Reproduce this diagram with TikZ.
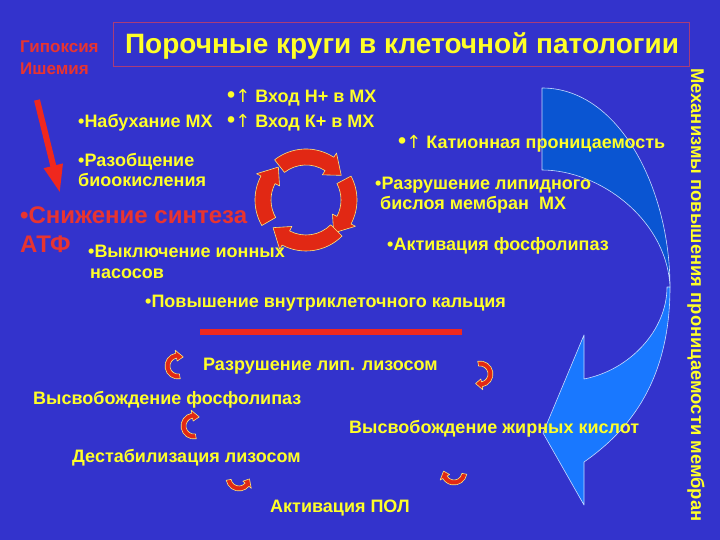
\documentclass[tikz,border=0pt]{standalone}
\usepackage{fontspec}
\setmainfont{Liberation Sans}
\newfontfamily\arrowfont{DejaVu Sans}
\usetikzlibrary{arrows.meta}
\definecolor{bg}{RGB}{51,51,204}
\definecolor{ytext}{RGB}{255,255,40}
\definecolor{rtext}{RGB}{232,52,48}
\definecolor{tborder}{RGB}{170,60,120}
\definecolor{bluedark}{RGB}{10,85,210}
\definecolor{bluelight}{RGB}{25,120,255}
\definecolor{blueedge}{RGB}{200,220,255}
\definecolor{arrred}{RGB}{225,40,20}
\definecolor{arredge}{RGB}{255,230,120}
\definecolor{barred}{RGB}{240,40,30}
\newcommand\uparr{{\arrowfont\mdseries ↑}}
\newcommand\bigbul{{\fontsize{23}{23}\selectfont •}}
\newcommand\carrow[8]{%
 \pgfmathsetmacro\cro{#3+#4/2}%
 \pgfmathsetmacro\cri{#3-#4/2}%
 \pgfmathsetmacro\chro{#3+#5}%
 \pgfmathsetmacro\chri{#3-#5}%
 \filldraw[cycarrow,shift={(#1,#2)}] (#6:\cro pt) arc[start angle=#6,end angle=#7,radius=\cro pt]
   -- (#7:\chro pt) -- (#8:#3 pt) -- (#7:\chri pt) -- (#7:\cri pt)
   arc[start angle=#7,end angle=#6,radius=\cri pt] -- cycle;}
\tikzset{
  yt/.style={text=ytext,font=\bfseries\fontsize{18}{21}\selectfont,inner sep=0pt,anchor=base west},
  rt/.style={text=rtext,font=\bfseries\fontsize{17}{20}\selectfont,inner sep=0pt,anchor=base west},
  bigrt/.style={text=rtext,font=\bfseries\fontsize{24}{28}\selectfont,inner sep=0pt,anchor=base west},
  cycarrow/.style={fill=arrred,draw=arredge,line width=0.6pt,line join=round},
  bluepart/.style={draw=blueedge,line width=0.6pt,line join=round},
}
\begin{document}
\begin{tikzpicture}[x=1pt,y=-1pt]
\useasboundingbox (0,0) rectangle (720,540);
\fill[bg] (0,0) rectangle (720,540);

% big blue curved arrow
\fill[bluedark,bluepart] (542,88) .. controls (620,88) and (670,190) .. (670,287)
  .. controls (667,220) and (600,170) .. (542,170) -- cycle;
\fill[bluelight,bluepart] (670,287) .. controls (670,380) and (630,430) .. (584,462)
  -- (584,505) -- (543,433) -- (584,335) -- (584,379)
  .. controls (630,370) and (667,330) .. (667,287) -- cycle;

% title
\node[draw=tborder,line width=1pt,minimum width=576pt,minimum height=44pt,inner sep=0pt] (titlebox) at (401,45) {};
\node[text=ytext,font=\bfseries\fontsize{28}{32}\selectfont,inner sep=0pt,anchor=base] (title) at (402,54) {Порочные круги в клеточной патологии};

% hypoxia
\node[rt] (gip) at (20,53) {Гипоксия};
\node[rt] (ish) at (20,75) {Ишемия};
\coordinate (ra1) at (37,100);
\coordinate (ra2) at (60,193);
\draw[barred,line width=6pt,-{Triangle[length=28pt,width=18pt]}] (ra1) -- (ra2);

% texts
\node[yt] (vh1) at (227,103) {\bigbul\uparr\ Вход Н+ в МХ};
\node[yt] (vh2) at (227,128) {\bigbul\uparr\ Вход К+ в МХ};
\node[yt] (nab) at (78,128) {•Набухание МХ};
\node[yt] (kat) at (398,149) {\bigbul\uparr\ Катионная проницаемость};
\node[yt] (raz1) at (78,167) {•Разобщение};
\node[yt] (raz2) at (78,187) {биоокисления};
\node[bigrt] (sn1) at (20,223) {•Снижение синтеза};
\node[bigrt] (sn2) at (20,252) {АТФ};
\node[yt] (vyk1) at (88,258) {•Выключение ионных};
\node[yt] (vyk2) at (90,278) {насосов};
\node[yt] (lip1) at (375,190) {•Разрушение липидного};
\node[yt] (lip2) at (380,210) {бислоя мембран~~МХ};
\node[yt] (akf) at (387,250) {•Активация фосфолипаз};
\node[yt] (pov) at (145,307) {•Повышение внутриклеточного кальция};
\coordinate (bar1) at (200,331.5);
\coordinate (bar2) at (462,331.5);
\draw[barred,line width=6pt] (bar1) -- (bar2);
\node[yt] (rl) at (203,370) {Разрушение лип. лизосом};
\node[yt] (vf) at (33,404) {Высвобождение фосфолипаз};
\node[yt] (vz) at (349,433) {Высвобождение жирных кислот};
\node[yt] (ds) at (72,462) {Дестабилизация лизосом};
\node[yt] (ap) at (270,512) {Активация ПОЛ};
\node[yt,rotate=-90,font=\bfseries\fontsize{18.4}{21}\selectfont] (vert) at (691,68) {Механизмы повышения проницаемости мембран};

% cycle of arrows
\carrow{306}{200}{43}{16}{13}{128}{57}{35}
\carrow{306}{200}{43}{16}{13}{28}{-28}{-50}
\carrow{306}{200}{43}{16}{13}{-45}{-118}{-140}
\carrow{306}{200}{43}{16}{13}{210}{152}{130}

% small arrows
\carrow{178}{366}{10.5}{5}{5.5}{280}{100}{60}
\carrow{194}{426}{10.5}{5}{5.5}{280}{100}{60}
\carrow{239}{478}{10.5}{5}{5.5}{190}{320}{355}
\carrow{480}{374}{10.5}{5}{5.5}{100}{-80}{-115}
\carrow{454}{472}{10.5}{5}{5.5}{-10}{-150}{-185}
\end{tikzpicture}
\end{document}
